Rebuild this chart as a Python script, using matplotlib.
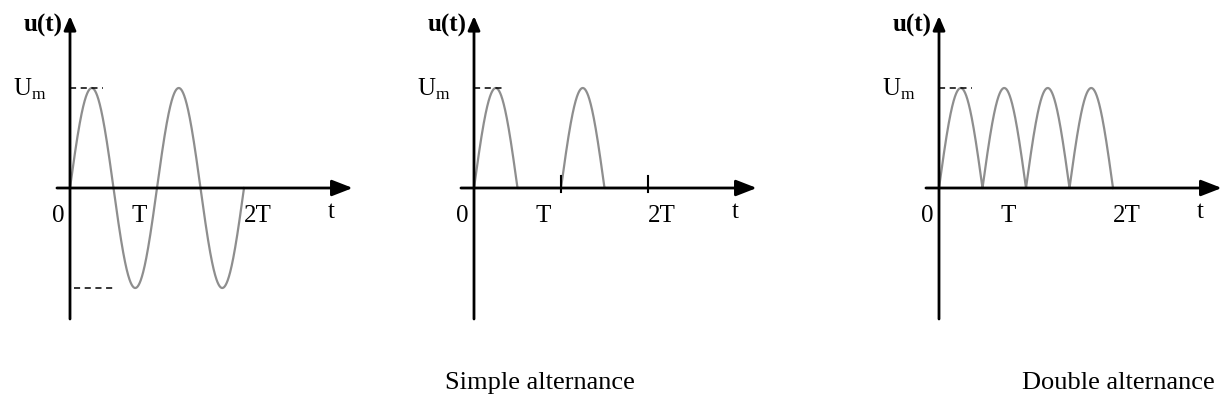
import numpy as np
import matplotlib.pyplot as plt

plt.rcParams['font.family'] = ['Liberation Serif', 'DejaVu Serif']
plt.rcParams['mathtext.fontset'] = 'custom'
plt.rcParams['mathtext.rm'] = 'Liberation Serif'

# signal parameters (time in units of T, voltage in units of Um)
amplitude = 1.0
n_periods = 2
tick_pos = [1, 2]                 # T and 2T marks on the half-wave plot
tick_labels = ['0', 'T', '2T']
tick_label_x = [-0.13, 0.80, 2.16]
captions = ['', 'Simple alternance', 'Double alternance']

t = np.linspace(0, n_periods, 1201)
u_sine = amplitude * np.sin(2 * np.pi * t)
u_simple = np.where(u_sine > 0, u_sine, 0.0)
u_double = np.abs(u_sine)

W, H = 1224, 414
PX_T, PX_U = 87, 100              # pixels per period / per Um
XLIM = (-0.5, 3.3)
YLIM = (-1.6, 1.85)
CURVE = '#8e8e8e'

fig = plt.figure(figsize=(W / 100, H / 100), dpi=100)


def panel(ox, oy):
    w = (XLIM[1] - XLIM[0]) * PX_T
    h = (YLIM[1] - YLIM[0]) * PX_U
    left = ox + XLIM[0] * PX_T
    top = oy - YLIM[1] * PX_U
    ax = fig.add_axes([left / W, 1 - (top + h) / H, w / W, h / H])
    ax.set_xlim(XLIM)
    ax.set_ylim(YLIM)
    ax.axis('off')

    # axes with arrow heads
    ax.annotate('', xy=(3.25, 0), xytext=(-0.15, 0),
                arrowprops=dict(arrowstyle='-|>,head_length=0.9,head_width=0.35',
                                color='black', lw=2, mutation_scale=14,
                                shrinkA=0, shrinkB=0), zorder=5)
    ax.annotate('', xy=(0, 1.72), xytext=(0, -1.31),
                arrowprops=dict(arrowstyle='-|>,head_length=0.7,head_width=0.3',
                                color='black', lw=2, mutation_scale=12,
                                shrinkA=0, shrinkB=0), zorder=5)

    ax.text(-0.08, 1.64, 'u(t)', ha='right', va='center', fontsize=18,
            fontweight='bold')
    ax.text(-0.27, amplitude, r'U$_\mathrm{m}$', ha='right', va='center',
            fontsize=18)
    for x, lab in zip(tick_label_x, tick_labels):
        ax.text(x, -0.27, lab, ha='center', va='center', fontsize=18)
    ax.text(3.0, -0.23, 't', ha='center', va='center', fontsize=18)
    return ax


# full sine wave
ax1 = panel(70, 189)
ax1.plot(t, u_sine, color=CURVE, lw=1.6)
ax1.plot([0, 0.38], [amplitude, amplitude], color='black', lw=1.1,
         ls=(0, (4, 3)))
ax1.plot([0.05, 0.49], [-amplitude, -amplitude], color='black', lw=1.1,
         ls=(0, (4, 3)))

# half-wave rectified
ax2 = panel(474, 189)
ax2.plot(t, u_simple, color=CURVE, lw=1.6)
ax2.plot([0, 0.36], [amplitude, amplitude], color='black', lw=1.1,
         ls=(0, (4, 3)))
for x in tick_pos:
    ax2.plot([x, x], [-0.04, 0.12], color='black', lw=1.5, zorder=6)

# full-wave rectified
ax3 = panel(939, 189)
ax3.plot(t, u_double, color=CURVE, lw=1.6)
ax3.plot([0, 0.38], [amplitude, amplitude], color='black', lw=1.1,
         ls=(0, (4, 3)))

fig.text(445 / W, 1 - 383 / H, captions[1], ha='left', va='center',
         fontsize=19)
fig.text(1215 / W, 1 - 383 / H, captions[2], ha='right', va='center',
         fontsize=19)

fig.savefig('out.png', dpi=100, facecolor='white')
